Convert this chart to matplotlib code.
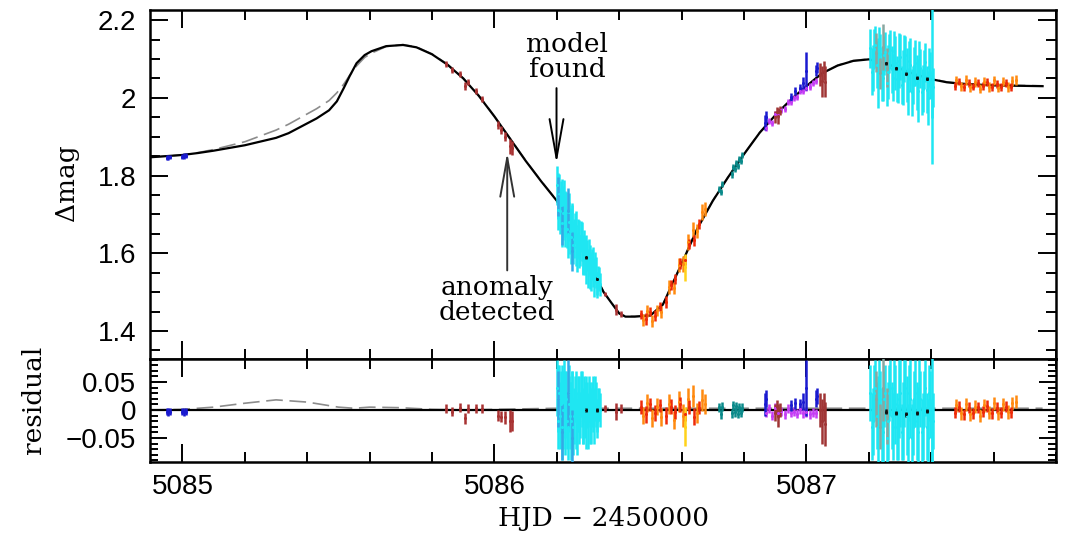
import matplotlib
matplotlib.use("Agg")
import matplotlib.pyplot as plt
import numpy as np

# ---------------- model curves ----------------
model_t = [5084.896, 5085.0, 5085.05, 5085.1, 5085.2, 5085.3, 5085.34, 5085.43, 5085.47,
           5085.495, 5085.517, 5085.536, 5085.558, 5085.584, 5085.606, 5085.653, 5085.707,
           5085.75, 5085.80, 5085.85, 5085.90, 5085.95, 5086.00, 5086.05, 5086.10, 5086.15,
           5086.20, 5086.25, 5086.30, 5086.35, 5086.40, 5086.42, 5086.45, 5086.50, 5086.54,
           5086.60, 5086.65, 5086.70, 5086.75, 5086.80, 5086.85, 5086.90, 5086.95, 5087.00,
           5087.05, 5087.10, 5087.15, 5087.20, 5087.25, 5087.30, 5087.35, 5087.40, 5087.45,
           5087.50, 5087.60, 5087.757]
model_mag = [1.847, 1.853, 1.858, 1.864, 1.878, 1.897, 1.909, 1.947, 1.968,
             1.991, 2.025, 2.056, 2.089, 2.110, 2.120, 2.133, 2.136,
             2.130, 2.112, 2.085, 2.050, 2.005, 1.952, 1.895, 1.838, 1.785,
             1.735, 1.655, 1.580, 1.500, 1.445, 1.437, 1.437, 1.440, 1.468,
             1.573, 1.663, 1.735, 1.797, 1.855, 1.910, 1.955, 1.995, 2.030,
             2.063, 2.083, 2.095, 2.099, 2.090, 2.075, 2.060, 2.048, 2.040,
             2.036, 2.032, 2.030]

alt_mag = [1.847, 1.853, 1.859, 1.867, 1.887, 1.917, 1.932, 1.972, 1.993,
           2.013, 2.035, 2.058, 2.082, 2.104, 2.115, 2.132, 2.137,
           2.131, 2.113, 2.086, 2.051, 2.006, 1.953, 1.896, 1.839, 1.786,
           1.736, 1.656, 1.581, 1.501, 1.446, 1.438, 1.438, 1.441, 1.469,
           1.574, 1.664, 1.736, 1.798, 1.856, 1.911, 1.956, 1.996, 2.031,
           2.064, 2.084, 2.096, 2.100, 2.091, 2.076, 2.061, 2.049, 2.041,
           2.037, 2.033, 2.031]

alt_res_t = [5084.896, 5085.0, 5085.1, 5085.2, 5085.3, 5085.4, 5085.5, 5085.55, 5085.6,
             5085.7, 5085.8, 5085.9, 5086.0, 5086.2, 5086.6, 5087.0, 5087.4, 5087.757]
alt_res = [0.000, 0.001, 0.005, 0.012, 0.018, 0.014, 0.005, 0.003, 0.005,
           0.004, 0.001, 0.000, 0.001, 0.003, 0.003, 0.003, 0.003, 0.003]

# ---------------- data sets: time, mag, error, residual ----------------
blue1_t = [5084.950, 5084.955, 5084.960, 5085.000, 5085.005, 5085.010]
blue1_mag = [1.846, 1.847, 1.848, 1.849, 1.850, 1.851]
blue1_err = [0.006, 0.007, 0.006, 0.006, 0.007, 0.006]
blue1_res = [-0.003, -0.004, -0.003, -0.003, -0.004, -0.003]

brown1_t = [5085.845, 5085.865, 5085.89, 5085.905, 5085.915, 5085.94, 5085.96,
            5086.01, 5086.02, 5086.035, 5086.05, 5086.055]
brown1_mag = [2.087, 2.072, 2.061, 2.031, 2.040, 2.017, 1.998, 1.931, 1.918, 1.900, 1.875, 1.870]
brown1_err = [0.008, 0.008, 0.008, 0.010, 0.008, 0.008, 0.008, 0.010, 0.010, 0.012, 0.020, 0.018]
brown1_res = [0.002, -0.003, 0.004, -0.015, 0.002, 0.003, 0.002, -0.010, -0.012, -0.013, -0.020, -0.019]

cyan1_t = [5086.200, 5086.205, 5086.210, 5086.215, 5086.220, 5086.225, 5086.230,
           5086.235, 5086.240, 5086.245, 5086.250, 5086.255, 5086.260, 5086.265,
           5086.270, 5086.275, 5086.280, 5086.285, 5086.290, 5086.295, 5086.300,
           5086.305, 5086.310, 5086.315, 5086.320, 5086.325, 5086.330, 5086.335]
cyan1_mag = [1.775, 1.747, 1.709, 1.741, 1.703, 1.675, 1.707, 1.649, 1.681, 1.643,
             1.675, 1.638, 1.670, 1.603, 1.635, 1.608, 1.630, 1.583, 1.595, 1.608,
             1.560, 1.582, 1.554, 1.576, 1.538, 1.550, 1.522, 1.534]
cyan1_err = [0.05, 0.06, 0.06, 0.05, 0.07, 0.06, 0.05, 0.06, 0.05, 0.07, 0.05, 0.05,
             0.04, 0.05, 0.05, 0.04, 0.05, 0.04, 0.05, 0.04, 0.05, 0.04, 0.05, 0.04,
             0.05, 0.04, 0.03, 0.03]
cyan1_res = [0.04, 0.02, -0.01, 0.03, 0.00, -0.02, 0.02, -0.03, 0.01, -0.02, 0.02,
             -0.01, 0.03, -0.03, 0.01, -0.01, 0.02, -0.02, 0.00, 0.02, -0.02, 0.01,
             -0.01, 0.02, -0.01, 0.01, -0.01, 0.01]

cyan1b_t = [5086.2025, 5086.2075, 5086.2125, 5086.2175, 5086.2225, 5086.2275, 5086.2325,
            5086.2375, 5086.2425, 5086.2475, 5086.2525, 5086.2575, 5086.2625, 5086.2675,
            5086.2725, 5086.2775, 5086.2825, 5086.2875, 5086.2925, 5086.2975, 5086.3025,
            5086.3075, 5086.3125, 5086.3175, 5086.3225, 5086.3275, 5086.3325, 5086.3375]
cyan1b_mag = [1.711, 1.753, 1.725, 1.677, 1.739, 1.701, 1.663, 1.705, 1.657, 1.679,
              1.622, 1.664, 1.617, 1.639, 1.602, 1.644, 1.597, 1.619, 1.562, 1.594,
              1.596, 1.548, 1.570, 1.542, 1.564, 1.516, 1.538, 1.520]
cyan1b_err = [0.05, 0.05, 0.06, 0.06, 0.05, 0.06, 0.05, 0.05, 0.06, 0.05, 0.05, 0.04,
              0.05, 0.05, 0.04, 0.04, 0.05, 0.04, 0.04, 0.04, 0.04, 0.04, 0.04, 0.03,
              0.04, 0.03, 0.03, 0.03]
cyan1b_res = [-0.02, 0.03, 0.01, -0.03, 0.04, 0.01, -0.02, 0.03, -0.01, 0.02, -0.03,
              0.02, -0.02, 0.01, -0.02, 0.03, -0.01, 0.02, -0.03, 0.01, 0.02, -0.02,
              0.01, -0.01, 0.02, -0.02, 0.01, 0.00]

sky1_t = [5086.205, 5086.215, 5086.235, 5086.250]
sky1_mag = [1.747, 1.671, 1.709, 1.605]
sky1_err = [0.05, 0.05, 0.06, 0.05]
sky1_res = [0.02, -0.04, 0.03, -0.05]

black1_t = [5086.295, 5086.330]
black1_mag = [1.590, 1.535]
black1_err = [0.004, 0.004]
black1_res = [0.000, 0.000]

brown2_t = [5086.355, 5086.390, 5086.405]
brown2_mag = [1.495, 1.455, 1.444]
brown2_err = [0.006, 0.015, 0.008]
brown2_res = [0.003, -0.003, 0.002]

red1_t = [5086.47, 5086.485, 5086.50, 5086.515, 5086.53, 5086.55, 5086.565,
          5086.58, 5086.595, 5086.61, 5086.625, 5086.64, 5086.655]
red1_mag = [1.443, 1.431, 1.450, 1.439, 1.463, 1.475, 1.518, 1.534, 1.574,
            1.583, 1.623, 1.633, 1.675]
red1_err = [0.012, 0.015, 0.012, 0.014, 0.012, 0.015, 0.013, 0.012, 0.014,
            0.012, 0.013, 0.015, 0.012]
red1_res = [0.005, -0.008, 0.010, -0.005, 0.008, -0.010, 0.006, -0.004, 0.010,
            -0.008, 0.005, -0.012, 0.004]

orange1_t = [5086.475, 5086.49, 5086.505, 5086.52, 5086.535, 5086.56, 5086.575,
             5086.59, 5086.605, 5086.62, 5086.635, 5086.65, 5086.665, 5086.675]
orange1_mag = [1.428, 1.451, 1.426, 1.453, 1.449, 1.513, 1.511, 1.570, 1.572,
               1.629, 1.661, 1.658, 1.706, 1.713]
orange1_err = [0.015, 0.016, 0.016, 0.015, 0.016, 0.018, 0.016, 0.018, 0.020,
               0.020, 0.020, 0.018, 0.020, 0.018]
orange1_res = [-0.010, 0.012, -0.015, 0.006, -0.012, 0.010, -0.018, 0.015, -0.010,
               0.020, 0.025, -0.005, 0.018, 0.010]

yellow_t = [5086.612]
yellow_mag = [1.564]
yellow_err = [0.035]
yellow_res = [-0.030]

teal_t = [5086.72, 5086.725, 5086.73, 5086.76, 5086.765, 5086.77, 5086.775,
          5086.78, 5086.785, 5086.79, 5086.795]
teal_mag = [1.765, 1.758, 1.778, 1.803, 1.822, 1.816, 1.833, 1.825, 1.843, 1.838, 1.853]
teal_err = [0.008] * 11
teal_res = [0.005, -0.008, 0.006, -0.006, 0.008, -0.004, 0.007, -0.007, 0.005, -0.005, 0.004]

purple_t = [5086.87, 5086.88, 5086.89, 5086.90, 5086.91, 5086.92, 5086.93, 5086.94,
            5086.95, 5086.96, 5086.97, 5086.98, 5086.99, 5087.00, 5087.01, 5087.02, 5087.03]
purple_mag = [1.923, 1.940, 1.936, 1.959, 1.957, 1.969, 1.971, 1.989, 1.990, 1.999,
              2.002, 2.017, 2.017, 2.026, 2.029, 2.038, 2.044]
purple_err = [0.008] * 17
purple_res = [-0.005, 0.003, -0.010, 0.004, -0.006, -0.002, -0.008, 0.002, -0.005,
              -0.003, -0.007, 0.001, -0.006, -0.004, -0.008, -0.005, -0.006]

blue2_t = [5086.868, 5086.872, 5086.950, 5086.965, 5086.980, 5086.990, 5086.998, 5087.030, 5087.035]
blue2_mag = [1.936, 1.950, 2.003, 2.018, 2.026, 2.038, 2.069, 2.070, 2.078]
blue2_err = [0.020, 0.015, 0.010, 0.010, 0.010, 0.015, 0.050, 0.015, 0.015]
blue2_res = [0.010, 0.020, 0.008, 0.012, 0.010, 0.015, 0.040, 0.020, 0.025]

brown3_t = [5086.900, 5086.905, 5086.910, 5086.915, 5087.045, 5087.050, 5087.055, 5087.060]
brown3_mag = [1.950, 1.964, 1.953, 1.967, 2.060, 2.043, 2.070, 2.042]
brown3_err = [0.015, 0.012, 0.020, 0.012, 0.030, 0.040, 0.025, 0.040]
brown3_res = [-0.005, 0.005, -0.010, 0.000, 0.000, -0.020, 0.005, -0.025]

cyan2_t = [5087.205, 5087.213, 5087.221, 5087.229, 5087.237, 5087.245, 5087.253,
           5087.261, 5087.269, 5087.277, 5087.285, 5087.293, 5087.301, 5087.309,
           5087.317, 5087.325, 5087.333, 5087.341, 5087.349, 5087.357, 5087.365,
           5087.373, 5087.381, 5087.389, 5087.397, 5087.405]
cyan2_mag = [2.128, 2.077, 2.136, 2.064, 2.113, 2.051, 2.119, 2.067, 2.124, 2.052,
             2.090, 2.037, 2.105, 2.052, 2.110, 2.017, 2.085, 2.033, 2.090, 2.018,
             2.076, 2.024, 2.092, 2.000, 2.058, 2.027]
cyan2_err = [0.05, 0.06, 0.05, 0.09, 0.05, 0.06, 0.05, 0.07, 0.05, 0.06, 0.07, 0.05,
             0.06, 0.07, 0.05, 0.06, 0.07, 0.05, 0.06, 0.08, 0.05, 0.06, 0.05, 0.07,
             0.06, 0.05]
cyan2_res = [0.03, -0.02, 0.04, -0.03, 0.02, -0.04, 0.03, -0.02, 0.04, -0.03, 0.01,
             -0.04, 0.03, -0.02, 0.04, -0.05, 0.02, -0.03, 0.03, -0.04, 0.02, -0.03,
             0.04, -0.05, 0.01, -0.02]

cyan2b_t = [5087.209, 5087.217, 5087.225, 5087.233, 5087.241, 5087.249, 5087.257,
            5087.265, 5087.273, 5087.281, 5087.289, 5087.297, 5087.305, 5087.313,
            5087.321, 5087.329, 5087.337, 5087.345, 5087.353, 5087.361, 5087.369,
            5087.377, 5087.385, 5087.393, 5087.401]
cyan2b_mag = [2.067, 2.126, 2.085, 2.133, 2.062, 2.110, 2.038, 2.115, 2.073, 2.121,
              2.048, 2.096, 2.033, 2.101, 2.058, 2.096, 2.014, 2.081, 2.039, 2.097,
              2.015, 2.073, 2.021, 2.079, 2.008]
cyan2b_err = [0.06, 0.05, 0.06, 0.05, 0.07, 0.05, 0.06, 0.05, 0.06, 0.05, 0.06, 0.07,
              0.05, 0.06, 0.07, 0.05, 0.06, 0.05, 0.07, 0.05, 0.06, 0.05, 0.06, 0.05, 0.06]
cyan2b_res = [-0.03, 0.03, -0.01, 0.04, -0.03, 0.02, -0.05, 0.03, -0.01, 0.04, -0.03,
              0.02, -0.04, 0.03, -0.01, 0.03, -0.05, 0.02, -0.02, 0.04, -0.04, 0.02,
              -0.03, 0.03, -0.04]

gray_t = [5087.222, 5087.235, 5087.245, 5087.258]
gray_mag = [2.116, 2.063, 2.131, 2.078]
gray_err = [0.05, 0.04, 0.06, 0.05]
gray_res = [0.02, -0.03, 0.04, -0.01]

spike_t = [5087.404]
spike_mag = [2.030]
spike_err = [0.200]
spike_res = [0.000]

black2_t = [5087.255, 5087.287, 5087.320, 5087.353, 5087.385]
black2_mag = [2.089, 2.076, 2.062, 2.052, 2.049]
black2_err = [0.004] * 5
black2_res = [-0.003, -0.005, -0.008, -0.005, -0.002]

red2_t = [5087.475, 5087.49, 5087.505, 5087.52, 5087.535, 5087.55, 5087.565,
          5087.58, 5087.595, 5087.61, 5087.625, 5087.64, 5087.655]
red2_mag = [2.031, 2.042, 2.028, 2.039, 2.029, 2.039, 2.031, 2.040, 2.027,
            2.036, 2.027, 2.038, 2.027]
red2_err = [0.010] * 13
red2_res = [-0.005, 0.006, -0.008, 0.004, -0.006, 0.005, -0.003, 0.007, -0.006,
            0.004, -0.005, 0.006, -0.004]

orange2_t = [5087.48, 5087.495, 5087.51, 5087.525, 5087.54, 5087.555, 5087.57,
             5087.585, 5087.60, 5087.615, 5087.63, 5087.645, 5087.66, 5087.672]
orange2_mag = [2.045, 2.030, 2.046, 2.027, 2.041, 2.024, 2.042, 2.028, 2.045,
               2.026, 2.042, 2.028, 2.043, 2.046]
orange2_err = [0.012] * 14
orange2_res = [0.008, -0.006, 0.010, -0.008, 0.006, -0.010, 0.008, -0.005, 0.012,
               -0.006, 0.010, -0.004, 0.012, 0.015]

# tick labels
x_major = [5085, 5086, 5087]
x_labels = ["5085", "5086", "5087"]
y_major = [1.4, 1.6, 1.8, 2.0, 2.2]
y_labels = ["1.4", "1.6", "1.8", "2", "2.2"]
r_major = [-0.05, 0.0, 0.05]
r_labels = ["\u22120.05", "0", "0.05"]

# ---------------- figure ----------------
W, H = 1068, 536
fig = plt.figure(figsize=(W / 100, H / 100), dpi=100)
L, R = 150 / W, 1056 / W
ax = fig.add_axes([L, 1 - 359 / H, R - L, (359 - 10) / H])
axr = fig.add_axes([L, 1 - 462 / H, R - L, (462 - 359) / H], sharex=ax)

XMIN, XMAX = 5084.896, 5087.757

datasets = [
    (blue1_t, blue1_mag, blue1_err, blue1_res, "#1a1ad0"),
    (brown1_t, brown1_mag, brown1_err, brown1_res, "#a83232"),
    (cyan1_t, cyan1_mag, cyan1_err, cyan1_res, "#1fe6f2"),
    (cyan1b_t, cyan1b_mag, cyan1b_err, cyan1b_res, "#1fe6f2"),
    (sky1_t, sky1_mag, sky1_err, sky1_res, "#35a8e6"),
    (black1_t, black1_mag, black1_err, black1_res, "#101010"),
    (brown2_t, brown2_mag, brown2_err, brown2_res, "#a83232"),
    (orange1_t, orange1_mag, orange1_err, orange1_res, "#ff8a10"),
    (red1_t, red1_mag, red1_err, red1_res, "#ee2a08"),
    (yellow_t, yellow_mag, yellow_err, yellow_res, "#ffd21a"),
    (teal_t, teal_mag, teal_err, teal_res, "#0a8a8a"),
    (purple_t, purple_mag, purple_err, purple_res, "#c53cf5"),
    (blue2_t, blue2_mag, blue2_err, blue2_res, "#1a1ad0"),
    (brown3_t, brown3_mag, brown3_err, brown3_res, "#a03535"),
    (cyan2_t, cyan2_mag, cyan2_err, cyan2_res, "#1fe6f2"),
    (cyan2b_t, cyan2b_mag, cyan2b_err, cyan2b_res, "#1fe6f2"),
    (gray_t, gray_mag, gray_err, gray_res, "#8aa7a0"),
    (spike_t, spike_mag, spike_err, spike_res, "#1fe6f2"),
    (black2_t, black2_mag, black2_err, black2_res, "#101010"),
    (orange2_t, orange2_mag, orange2_err, orange2_res, "#ff8a10"),
    (red2_t, red2_mag, red2_err, red2_res, "#ee2a08"),
]

# model curves
ax.plot(model_t, alt_mag, color="#8c8c8c", lw=1.2, dashes=(10, 4), zorder=2)
ax.plot(model_t, model_mag, color="black", lw=1.6, zorder=3)
axr.axhline(0, color="black", lw=1.6, zorder=3)
axr.plot(alt_res_t, alt_res, color="#8c8c8c", lw=1.2, dashes=(10, 4), zorder=2)

for t, m, e, r, c in datasets:
    ax.errorbar(t, m, yerr=e, fmt="o", ms=2.2, color=c, ecolor=c, elinewidth=1.8,
                capsize=0, mew=0, zorder=4)
    axr.errorbar(t, r, yerr=e, fmt="o", ms=2.2, color=c, ecolor=c, elinewidth=1.8,
                 capsize=0, mew=0, zorder=4)

# axes limits / ticks
ax.set_xlim(XMIN, XMAX)
ax.set_ylim(1.328, 2.226)
axr.set_ylim(-0.093, 0.091)

tick_font = {"family": "Liberation Sans", "size": 20}
for a in (ax, axr):
    for s in a.spines.values():
        s.set_linewidth(1.8)
    a.tick_params(which="both", direction="in", top=True, right=True, width=1.4)
    a.tick_params(which="major", length=13)
    a.tick_params(which="minor", length=7)
    a.set_xticks(x_major)
    a.set_xticks(np.arange(5085.0, 5087.8, 0.2), minor=True)

ax.set_yticks(y_major)
ax.set_yticklabels(y_labels, fontdict=tick_font)
ax.set_yticks(np.arange(1.35, 2.23, 0.05), minor=True)
ax.tick_params(axis="x", labelbottom=False)
ax.tick_params(axis="y", pad=10)

axr.set_yticks(r_major)
axr.set_yticklabels(r_labels, fontdict=tick_font)
axr.set_yticks(np.arange(-0.09, 0.095, 0.01), minor=True)
axr.tick_params(axis="y", which="major", length=12, pad=10)
axr.tick_params(axis="y", which="minor", length=6)
axr.set_xticklabels(x_labels, fontdict=tick_font)
axr.tick_params(axis="x", pad=9)

serif = "DejaVu Serif"
axr.set_xlabel("HJD \u2212 2450000", fontfamily=serif, fontsize=19, labelpad=4)
fig.text(67 / W, 1 - 183 / H, "\u0394mag", rotation=90, ha="center", va="center",
         fontfamily=serif, fontsize=19)
fig.text(34 / W, 1 - 400 / H, "residual", rotation=90, ha="center", va="center",
         fontfamily=serif, fontsize=19)

# annotations
ax.annotate("", xy=(5086.199, 1.831), xytext=(5086.199, 2.025),
            arrowprops=dict(arrowstyle="->,head_length=1.4,head_width=0.25",
                            color="black", lw=1.4, mutation_scale=20, shrinkA=0, shrinkB=0))
ax.text(5086.233, 2.105, "model\nfound", ha="center", va="center", fontfamily=serif,
        fontsize=19, linespacing=1.0)
ax.annotate("", xy=(5086.041, 1.860), xytext=(5086.041, 1.556),
            arrowprops=dict(arrowstyle="->,head_length=1.4,head_width=0.25",
                            color="#333333", lw=1.4, mutation_scale=20, shrinkA=0, shrinkB=0))
ax.text(5086.009, 1.481, "anomaly\ndetected", ha="center", va="center", fontfamily=serif,
        fontsize=19, linespacing=1.0)

fig.savefig("out.png", dpi=100)
